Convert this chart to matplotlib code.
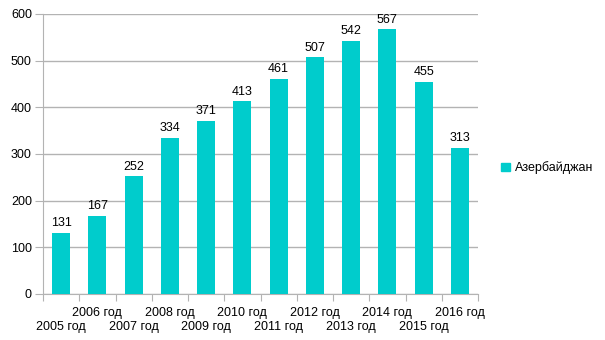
import matplotlib
matplotlib.use("Agg")
import matplotlib.pyplot as plt
from matplotlib.patches import Patch
import numpy as np

plt.rcParams['font.family'] = ['Liberation Sans', 'DejaVu Sans']

years = ["2005 год", "2006 год", "2007 год", "2008 год", "2009 год", "2010 год",
         "2011 год", "2012 год", "2013 год", "2014 год", "2015 год", "2016 год"]
values = [131, 167, 252, 334, 371, 413, 461, 507, 542, 567, 455, 313]
series_name = "Азербайджан"

color = "#00CCCC"
grid_c = "#b3b3b3"
fs = 9

W, H = 605, 340
fig = plt.figure(figsize=(W/100, H/100), dpi=100)
ax = fig.add_axes([43/W, 1-294/H, (478-43)/W, (294-14)/H])

x = np.arange(len(values))
ax.bar(x, values, width=0.5, color=color, zorder=3)
for xi, v in zip(x, values):
    ax.text(xi, v + 8, str(v), ha='center', va='bottom', fontsize=fs, color='black', zorder=4)

ax.set_xlim(-0.5, len(values) - 0.5)
ax.set_ylim(0, 600)
ax.set_yticks(range(0, 601, 100))
ax.yaxis.grid(True, color=grid_c, linewidth=1, zorder=0)
ax.tick_params(axis='y', length=6, color=grid_c, labelsize=fs, pad=2)

ax.set_xticks(np.arange(-0.5, len(values)), minor=False)
ax.set_xticklabels([])
ax.tick_params(axis='x', which='major', length=5, color=grid_c, direction='out')
ax.set_xticks(x, minor=True)
ax.tick_params(axis='x', which='minor', length=0, labelsize=fs)
ax.set_xticklabels(years, minor=True)
for i, lbl in enumerate(ax.xaxis.get_minorticklabels()):
    lbl.set_y(-0.03 if i % 2 == 1 else -0.08)

for s in ['top', 'right']:
    ax.spines[s].set_visible(False)
for s in ['left', 'bottom']:
    ax.spines[s].set_color(grid_c)

fig.legend(handles=[Patch(color=color, label=series_name)], loc='center left',
           bbox_to_anchor=(490/W, 1-168/H), frameon=False, fontsize=fs,
           handlelength=0.7, handleheight=0.7, handletextpad=0.4)

fig.savefig("out.png", dpi=100)
